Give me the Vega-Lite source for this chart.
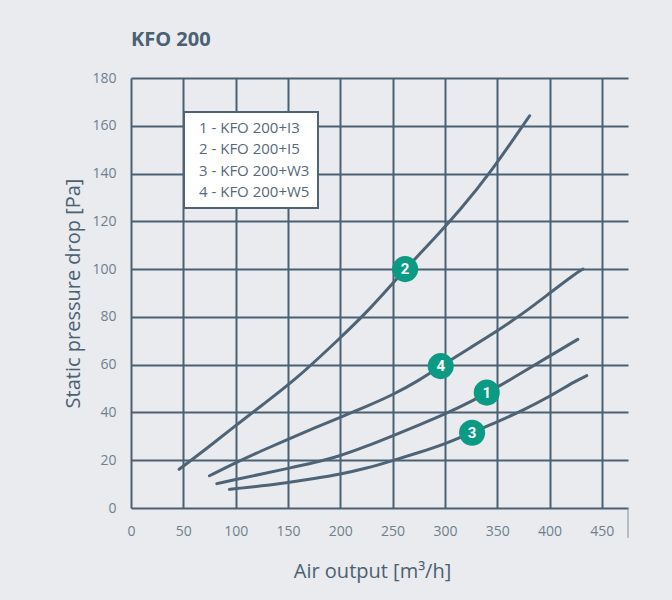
{
  "$schema": "https://vega.github.io/schema/vega-lite/v6.json",
  "width": 497,
  "height": 430,
  "autosize": {"type": "none"},
  "padding": {"left": 131, "top": 78, "right": 44, "bottom": 92},
  "background": "#e9ebef",
  "title": {"text": "KFO 200", "anchor": "start", "frame": "group", "fontSize": 20, "fontWeight": "bold", "font": "Open Sans", "color": "#4b6172", "offset": 21},
  "config": {
    "view": {"stroke": null},
    "font": "Open Sans",
    "legend": {"strokeWidth": 2}
  },
  "datasets": {
    "curves": [
      {"curve": "1 - KFO 200+I3", "q": 82, "p": 10.2},
      {"curve": "1 - KFO 200+I3", "q": 100, "p": 12},
      {"curve": "1 - KFO 200+I3", "q": 125, "p": 14.2},
      {"curve": "1 - KFO 200+I3", "q": 150, "p": 16.6},
      {"curve": "1 - KFO 200+I3", "q": 175, "p": 19},
      {"curve": "1 - KFO 200+I3", "q": 200, "p": 21.8},
      {"curve": "1 - KFO 200+I3", "q": 225, "p": 25.8},
      {"curve": "1 - KFO 200+I3", "q": 250, "p": 30.2},
      {"curve": "1 - KFO 200+I3", "q": 275, "p": 34.7},
      {"curve": "1 - KFO 200+I3", "q": 300, "p": 39.3},
      {"curve": "1 - KFO 200+I3", "q": 325, "p": 44.5},
      {"curve": "1 - KFO 200+I3", "q": 350, "p": 50.5},
      {"curve": "1 - KFO 200+I3", "q": 375, "p": 57},
      {"curve": "1 - KFO 200+I3", "q": 400, "p": 63.6},
      {"curve": "1 - KFO 200+I3", "q": 427, "p": 70.6},
      {"curve": "2 - KFO 200+I5", "q": 46, "p": 16.2},
      {"curve": "2 - KFO 200+I5", "q": 75, "p": 25.8},
      {"curve": "2 - KFO 200+I5", "q": 100, "p": 34.5},
      {"curve": "2 - KFO 200+I5", "q": 125, "p": 43},
      {"curve": "2 - KFO 200+I5", "q": 157, "p": 53.6},
      {"curve": "2 - KFO 200+I5", "q": 200, "p": 71.2},
      {"curve": "2 - KFO 200+I5", "q": 228, "p": 83},
      {"curve": "2 - KFO 200+I5", "q": 262, "p": 100},
      {"curve": "2 - KFO 200+I5", "q": 290, "p": 112.8},
      {"curve": "2 - KFO 200+I5", "q": 315, "p": 125},
      {"curve": "2 - KFO 200+I5", "q": 343, "p": 140},
      {"curve": "2 - KFO 200+I5", "q": 381, "p": 164.2},
      {"curve": "3 - KFO 200+W3", "q": 94, "p": 7.8},
      {"curve": "3 - KFO 200+W3", "q": 100, "p": 8.1},
      {"curve": "3 - KFO 200+W3", "q": 125, "p": 9.2},
      {"curve": "3 - KFO 200+W3", "q": 150, "p": 10.7},
      {"curve": "3 - KFO 200+W3", "q": 175, "p": 12.3},
      {"curve": "3 - KFO 200+W3", "q": 200, "p": 14.1},
      {"curve": "3 - KFO 200+W3", "q": 225, "p": 16.6},
      {"curve": "3 - KFO 200+W3", "q": 250, "p": 19.8},
      {"curve": "3 - KFO 200+W3", "q": 275, "p": 23.2},
      {"curve": "3 - KFO 200+W3", "q": 300, "p": 26.8},
      {"curve": "3 - KFO 200+W3", "q": 325, "p": 31.5},
      {"curve": "3 - KFO 200+W3", "q": 350, "p": 36},
      {"curve": "3 - KFO 200+W3", "q": 375, "p": 41},
      {"curve": "3 - KFO 200+W3", "q": 400, "p": 46.6},
      {"curve": "3 - KFO 200+W3", "q": 425, "p": 53.2},
      {"curve": "3 - KFO 200+W3", "q": 435.6, "p": 55.4},
      {"curve": "4 - KFO 200+W5", "q": 75, "p": 13.5},
      {"curve": "4 - KFO 200+W5", "q": 100, "p": 19},
      {"curve": "4 - KFO 200+W5", "q": 125, "p": 24},
      {"curve": "4 - KFO 200+W5", "q": 150, "p": 28.8},
      {"curve": "4 - KFO 200+W5", "q": 175, "p": 33.4},
      {"curve": "4 - KFO 200+W5", "q": 200, "p": 38},
      {"curve": "4 - KFO 200+W5", "q": 225, "p": 42.5},
      {"curve": "4 - KFO 200+W5", "q": 250, "p": 47.3},
      {"curve": "4 - KFO 200+W5", "q": 275, "p": 53.3},
      {"curve": "4 - KFO 200+W5", "q": 296, "p": 59.4},
      {"curve": "4 - KFO 200+W5", "q": 325, "p": 67.3},
      {"curve": "4 - KFO 200+W5", "q": 350, "p": 74.1},
      {"curve": "4 - KFO 200+W5", "q": 375, "p": 81.5},
      {"curve": "4 - KFO 200+W5", "q": 400, "p": 89.9},
      {"curve": "4 - KFO 200+W5", "q": 425, "p": 98.2},
      {"curve": "4 - KFO 200+W5", "q": 432, "p": 100}
    ],
    "labels": [
      {"n": "1", "q": 340, "p": 48.3},
      {"n": "2", "q": 262, "p": 100},
      {"n": "3", "q": 326, "p": 31.5},
      {"n": "4", "q": 296, "p": 59.4}
    ],
    "edge": [
      {"q": 475, "p": 0, "p2": -12.5}
    ]
  },
  "layer": [
    {
      "data": {"name": "curves"},
      "mark": {"type": "line", "strokeWidth": 3, "strokeCap": "round", "interpolate": "basis"},
      "encoding": {
        "x": {
          "field": "q", "type": "quantitative",
          "scale": {"domain": [0, 475], "nice": false, "zero": false},
          "axis": {
            "values": [0, 25, 50, 75, 100, 125, 150, 175, 200, 225, 250, 275, 300, 325, 350, 375, 400, 425, 450, 475],
            "labelExpr": "datum.value % 50 === 0 && datum.value < 475 ? datum.label : ''",
            "grid": true, "gridColor": "#4a6173", "gridWidth": 2, "gridOpacity": 1,
            "domain": false, "ticks": false,
            "labelPadding": 16, "labelFlush": false,
            "labelFontSize": 14, "labelColor": "#6e808e", "labelFont": "Open Sans",
            "title": "Air output [m³/h]", "titleFontSize": 20, "titleFontWeight": "normal",
            "titleColor": "#4b6172", "titleFont": "Open Sans", "titlePadding": 23, "titleX": 241
          }
        },
        "y": {
          "field": "p", "type": "quantitative",
          "scale": {"domain": [0, 180], "nice": false},
          "axis": {
            "values": [0, 20, 40, 60, 80, 100, 120, 140, 160, 180],
            "grid": true, "gridColor": "#4a6173", "gridWidth": 2, "gridOpacity": 1,
            "domain": false, "ticks": false,
            "labelPadding": 15,
            "labelFontSize": 14, "labelColor": "#6e808e", "labelFont": "Open Sans",
            "title": "Static pressure drop [Pa]", "titleFontSize": 20, "titleFontWeight": "normal",
            "titleColor": "#4b6172", "titleFont": "Open Sans", "titlePadding": 8
          }
        },
        "color": {
          "field": "curve", "type": "nominal",
          "scale": {"range": ["#4e6476"]},
          "legend": {
            "title": null, "orient": "none", "legendX": 53, "legendY": 34,
            "fillColor": "white", "strokeColor": "#4e6476", "padding": 8,
            "symbolType": "circle", "symbolSize": 1, "symbolStrokeWidth": 0, "symbolOpacity": 0,
            "labelOffset": -8, "rowPadding": 5.5, "labelAlign": "left", "gridAlign": "all",
            "labelFontSize": 15, "labelColor": "#56697a", "labelFont": "Open Sans"
          }
        },
        "order": {"field": "q", "type": "quantitative"}
      }
    },
    {
      "data": {"name": "edge"},
      "mark": {"type": "rule", "color": "#7f909c", "strokeWidth": 1},
      "encoding": {
        "x": {"field": "q", "type": "quantitative"},
        "y": {"field": "p", "type": "quantitative"},
        "y2": {"field": "p2"}
      }
    },
    {
      "data": {"name": "labels"},
      "mark": {"type": "circle", "size": 680, "opacity": 1, "color": "#0b9a83"},
      "encoding": {
        "x": {"field": "q", "type": "quantitative"},
        "y": {"field": "p", "type": "quantitative"}
      }
    },
    {
      "data": {"name": "labels"},
      "mark": {"type": "text", "color": "white", "fontWeight": "bold", "fontSize": 15, "font": "Roboto", "baseline": "middle", "align": "center"},
      "encoding": {
        "x": {"field": "q", "type": "quantitative"},
        "y": {"field": "p", "type": "quantitative"},
        "text": {"field": "n"}
      }
    }
  ]
}
